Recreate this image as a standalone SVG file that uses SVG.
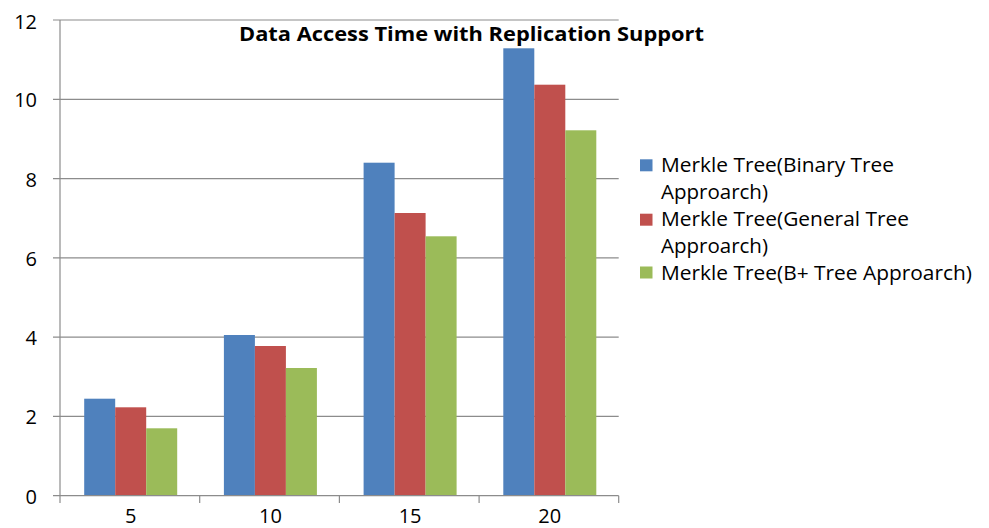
<svg xmlns="http://www.w3.org/2000/svg" width="989" height="528" viewBox="0 0 989 528">
<style>
.grid{stroke:#8c8c8c;stroke-width:1.2;fill:none}
.axis{stroke:#8c8c8c;stroke-width:1.2;fill:none}
.lbl{font-family:"Open Sans","Liberation Sans",sans-serif;font-size:20px;fill:#000}
.title{font-family:"Open Sans","Liberation Sans",sans-serif;font-size:19px;font-weight:bold;fill:#000}
.leg{font-family:"Open Sans","Liberation Sans",sans-serif;font-size:19.5px;fill:#000}
.b{fill:#4F81BD}
.r{fill:#C0504D}
.g{fill:#9BBB59}
</style>
<rect width="989" height="528" fill="#ffffff"/>
<g id="gridlines">
<line class="grid" x1="53" y1="20" x2="618.7" y2="20"/>
<line class="grid" x1="53" y1="99.3" x2="618.7" y2="99.3"/>
<line class="grid" x1="53" y1="178.6" x2="618.7" y2="178.6"/>
<line class="grid" x1="53" y1="257.8" x2="618.7" y2="257.8"/>
<line class="grid" x1="53" y1="337.1" x2="618.7" y2="337.1"/>
<line class="grid" x1="53" y1="416.4" x2="618.7" y2="416.4"/>
</g>
<g id="title"><text class="title" x="239" y="41" textLength="465" lengthAdjust="spacingAndGlyphs">Data Access Time with Replication Support</text></g>
<g id="bars">
<g id="cat5">
<rect class="b" x="84.2" y="398.7" width="31" height="97"/>
<rect class="r" x="115.2" y="407.3" width="31" height="88.4"/>
<rect class="g" x="146.2" y="428.3" width="31" height="67.4"/>
</g>
<g id="cat10">
<rect class="b" x="223.9" y="335" width="31" height="160.7"/>
<rect class="r" x="254.9" y="346" width="31" height="149.7"/>
<rect class="g" x="285.9" y="368" width="31" height="127.7"/>
</g>
<g id="cat15">
<rect class="b" x="363.6" y="162.7" width="31" height="333"/>
<rect class="r" x="394.6" y="213" width="31" height="282.7"/>
<rect class="g" x="425.6" y="236.3" width="31" height="259.4"/>
</g>
<g id="cat20">
<rect class="b" x="503.3" y="48.3" width="31" height="447.4"/>
<rect class="r" x="534.3" y="84.7" width="31" height="411"/>
<rect class="g" x="565.3" y="130.3" width="31" height="365.4"/>
</g>
</g>
<g id="axes">
<line class="axis" x1="60" y1="20" x2="60" y2="495.7"/>
<line class="axis" x1="53" y1="495.7" x2="618.7" y2="495.7"/>
<line class="axis" x1="60" y1="495.7" x2="60" y2="503"/>
<line class="axis" x1="199.7" y1="495.7" x2="199.7" y2="503"/>
<line class="axis" x1="339.4" y1="495.7" x2="339.4" y2="503"/>
<line class="axis" x1="479.1" y1="495.7" x2="479.1" y2="503"/>
<line class="axis" x1="618.7" y1="495.7" x2="618.7" y2="503"/>
</g>
<g id="y-labels" text-anchor="end">
<text class="lbl" x="37" y="29">12</text>
<text class="lbl" x="37" y="107.3">10</text>
<text class="lbl" x="37" y="186.6">8</text>
<text class="lbl" x="37" y="265.8">6</text>
<text class="lbl" x="37" y="345.1">4</text>
<text class="lbl" x="37" y="424.4">2</text>
<text class="lbl" x="37" y="503.5">0</text>
</g>
<g id="x-labels" text-anchor="middle">
<text class="lbl" x="130.7" y="523">5</text>
<text class="lbl" x="270.4" y="523">10</text>
<text class="lbl" x="410.1" y="523">15</text>
<text class="lbl" x="549.8" y="523">20</text>
</g>
<g id="legend">
<g id="legend-binary">
<rect class="b" x="640" y="159.3" width="12.5" height="12"/>
<text class="leg" x="661" y="172" textLength="233" lengthAdjust="spacingAndGlyphs">Merkle Tree(Binary Tree</text>
<text class="leg" x="661" y="199" textLength="107" lengthAdjust="spacingAndGlyphs">Approarch)</text>
</g>
<g id="legend-general">
<rect class="r" x="640" y="213.7" width="12.5" height="12"/>
<text class="leg" x="661" y="226" textLength="248" lengthAdjust="spacingAndGlyphs">Merkle Tree(General Tree</text>
<text class="leg" x="661" y="253" textLength="107" lengthAdjust="spacingAndGlyphs">Approarch)</text>
</g>
<g id="legend-bplus">
<rect class="g" x="640" y="266.5" width="12.5" height="12"/>
<text class="leg" x="661" y="279.5" textLength="311" lengthAdjust="spacingAndGlyphs">Merkle Tree(B+ Tree Approarch)</text>
</g>
</g>
</svg>
